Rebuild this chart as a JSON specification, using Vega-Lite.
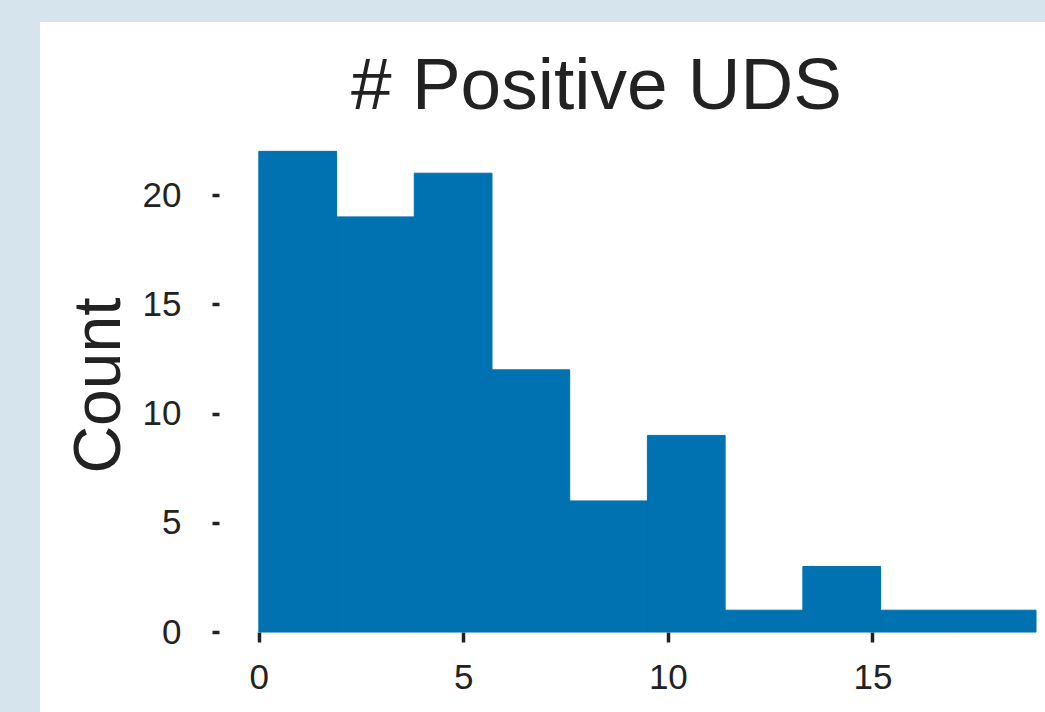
{
  "$schema": "https://vega.github.io/schema/vega-lite/v6.json",
  "width": 1005,
  "height": 690,
  "autosize": {"type": "none"},
  "padding": {"left": 40, "top": 22, "right": 0, "bottom": 0},
  "background": "#d6e4ee",
  "view": {"fill": "white", "stroke": null},
  "title": {
    "text": "# Positive UDS",
    "font": "Liberation Sans",
    "fontSize": 73,
    "fontWeight": "normal",
    "color": "#222222",
    "anchor": "middle",
    "frame": "group",
    "baseline": "alphabetic",
    "offset": -160,
    "dx": 54
  },
  "data": {
    "values": [
      {"bin_start": 0.0, "bin_end": 1.9, "count": 22},
      {"bin_start": 1.9, "bin_end": 3.8, "count": 19},
      {"bin_start": 3.8, "bin_end": 5.7, "count": 21},
      {"bin_start": 5.7, "bin_end": 7.6, "count": 12},
      {"bin_start": 7.6, "bin_end": 9.5, "count": 6},
      {"bin_start": 9.5, "bin_end": 11.4, "count": 9},
      {"bin_start": 11.4, "bin_end": 13.3, "count": 1},
      {"bin_start": 13.3, "bin_end": 15.2, "count": 3},
      {"bin_start": 15.2, "bin_end": 17.1, "count": 1},
      {"bin_start": 17.1, "bin_end": 19.0, "count": 1}
    ]
  },
  "mark": {"type": "rect", "color": "#0071b1", "stroke": "#0071b1", "strokeWidth": 1},
  "encoding": {
    "x": {
      "field": "bin_start",
      "type": "quantitative",
      "scale": {"domain": [-5.35, 19.22], "nice": false, "zero": false},
      "axis": {
        "title": null,
        "values": [0, 5, 10, 15],
        "offset": -80,
        "domain": false,
        "grid": false,
        "tickSize": 10,
        "tickWidth": 3.5,
        "tickColor": "#222222",
        "labelFont": "Liberation Sans",
        "labelFontSize": 35,
        "labelColor": "#222222",
        "labelPadding": 18,
        "labelFlush": false
      }
    },
    "x2": {"field": "bin_end"},
    "y": {
      "field": "count",
      "type": "quantitative",
      "scale": {"domain": [-3.66, 27.92], "nice": false, "zero": false},
      "axis": {
        "title": "Count",
        "values": [0, 5, 10, 15, 20],
        "offset": -179,
        "domain": false,
        "grid": false,
        "tickSize": 7,
        "tickWidth": 3.5,
        "tickColor": "#222222",
        "labelFont": "Liberation Sans",
        "labelFontSize": 35,
        "labelColor": "#222222",
        "labelPadding": 31,
        "labelFlush": false,
        "titleFont": "Liberation Sans",
        "titleFontSize": 66,
        "titleFontWeight": "normal",
        "titleColor": "#222222",
        "titleBaseline": "alphabetic",
        "titlePadding": 23,
        "titleY": 363
      }
    },
    "y2": {"datum": 0}
  }
}
